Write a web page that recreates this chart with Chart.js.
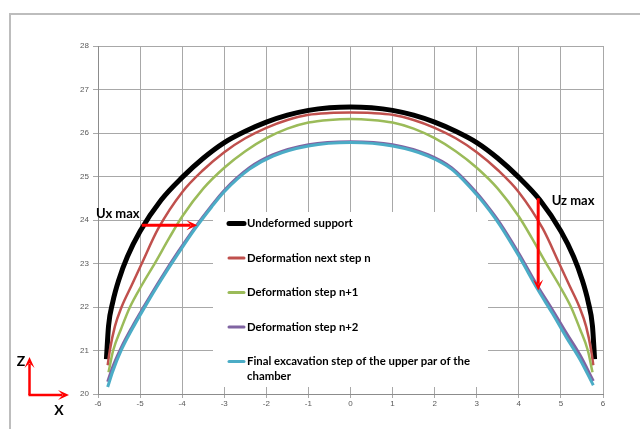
<!DOCTYPE html>
<html>
<head>
<meta charset="utf-8">
<script src="https://cdn.jsdelivr.net/npm/chart.js@4.4.1/dist/chart.umd.min.js"></script>
<style>
  html, body { margin: 0; padding: 0; background: #fff; }
  #wrap { width: 640px; height: 429px; }
</style>
</head>
<body>
<div id="wrap"><canvas id="chart" width="640" height="429"></canvas></div>
<script>
// ---- Data ----
const seriesNames = [
  'Undeformed support',
  'Deformation next step n',
  'Deformation step n+1',
  'Deformation step n+2',
  'Final excavation step of the upper par of the chamber',
];

const undeformedX = [-5.8, -5.75, -5.65, -5.5, -5.3, -5.0, -4.5, -4.0, -3.5, -3.0, -2.5, -2.0, -1.5, -1.0, -0.5, 0,
  0.5, 1.0, 1.5, 2.0, 2.5, 3.0, 3.5, 4.0, 4.5, 5.0, 5.3, 5.5, 5.65, 5.75, 5.8];
const undeformedY = [20.8, 21.56, 22.11, 22.64, 23.16, 23.74, 24.46, 24.98, 25.42, 25.78, 26.04, 26.25, 26.41, 26.52, 26.58, 26.6,
  26.58, 26.52, 26.41, 26.25, 26.04, 25.78, 25.42, 24.98, 24.46, 23.74, 23.16, 22.64, 22.11, 21.56, 20.8];

const stepNX = [-5.77, -5.72, -5.6, -5.44, -5.2, -4.96, -4.57, -4.0, -3.5, -3.0, -2.5, -2.0, -1.5, -1.0, -0.5, 0,
  0.5, 1.0, 1.5, 2.0, 2.5, 3.0, 3.5, 4.0, 4.57, 4.96, 5.2, 5.44, 5.6, 5.72, 5.77];
const stepNY = [20.66, 21.0, 21.55, 22.0, 22.5, 23.0, 23.8, 24.64, 25.15, 25.56, 25.88, 26.12, 26.3, 26.42, 26.46, 26.47,
  26.46, 26.42, 26.3, 26.12, 25.88, 25.56, 25.15, 24.64, 23.8, 23.0, 22.5, 22.0, 21.55, 21.0, 20.66];

const stepN1X = [-5.75, -5.64, -5.45, -5.24, -4.96, -4.64, -4.3, -4.0, -3.5, -3.0, -2.5, -2.0, -1.5, -1.0, -0.5, 0,
  0.5, 1.0, 1.5, 2.0, 2.5, 3.0, 3.5, 4.0, 4.3, 4.64, 4.96, 5.24, 5.45, 5.64, 5.75];
const stepN1Y = [20.5, 21.0, 21.5, 22.0, 22.5, 23.02, 23.6, 24.08, 24.72, 25.2, 25.58, 25.88, 26.1, 26.24, 26.3, 26.32,
  26.3, 26.24, 26.1, 25.88, 25.58, 25.2, 24.72, 24.08, 23.6, 23.02, 22.5, 22.0, 21.5, 21.0, 20.5];

const stepN2X = [-5.77, -5.65, -5.45, -5.2, -4.9, -4.5, -4.1, -3.7, -3.3, -3.0, -2.4, -1.84, -1.0, 0,
  1.0, 1.84, 2.4, 3.0, 3.3, 3.55, 4.0, 4.45, 4.8, 5.13, 5.45, 5.77];
const stepN2Y = [20.28, 20.62, 21.06, 21.52, 22.02, 22.66, 23.26, 23.82, 24.33, 24.68, 25.2, 25.5, 25.73, 25.8,
  25.73, 25.5, 25.2, 24.62, 24.26, 23.93, 23.23, 22.47, 21.93, 21.4, 20.9, 20.3];

const finalX = [-5.77, -5.65, -5.45, -5.2, -4.9, -4.5, -4.1, -3.7, -3.3, -3.0, -2.4, -1.84, -1.0, 0,
  1.0, 1.84, 2.4, 3.0, 3.3, 3.55, 4.0, 4.45, 4.8, 5.13, 5.45, 5.77];
const finalY = [20.16, 20.52, 21.0, 21.47, 21.98, 22.62, 23.22, 23.79, 24.3, 24.65, 25.17, 25.47, 25.7, 25.78,
  25.7, 25.47, 25.17, 24.58, 24.22, 23.88, 23.17, 22.4, 21.85, 21.3, 20.8, 20.2];

const xTicks = [-6, -5, -4, -3, -2, -1, 0, 1, 2, 3, 4, 5, 6];
const yTicks = [20, 21, 22, 23, 24, 25, 26, 27, 28];

// ---- Annotations (data coordinates) ----
const uxArrow = [[-4.96, 23.88], [-3.64, 23.88]];
const uzArrow = [[4.46, 24.5], [4.46, 22.38]];
const uxLabel = { text: 'Ux max', x: -6.05, y: 24.14 };
const uzLabel = { text: 'Uz max', x: 4.78, y: 24.44 };

// ---- Styles ----
const colors = ['#000000', '#c0504d', '#9bbb59', '#8064a2', '#4bacc6'];
const widths = [5, 2.5, 2.5, 3, 3];

const pts = (xs, ys) => xs.map((x, i) => ({ x, y: ys[i] }));
const seriesData = [
  pts(undeformedX, undeformedY),
  pts(stepNX, stepNY),
  pts(stepN1X, stepN1Y),
  pts(stepN2X, stepN2Y),
  pts(finalX, finalY),
];

function arrow(ctx, x1, y1, x2, y2, w) {
  const a = Math.atan2(y2 - y1, x2 - x1);
  const len = 11, half = 5;
  ctx.beginPath();
  ctx.moveTo(x1, y1);
  ctx.lineTo(x2 - Math.cos(a) * len * 0.6, y2 - Math.sin(a) * len * 0.6);
  ctx.lineWidth = w;
  ctx.stroke();
  const bx = x2 - Math.cos(a) * len, by = y2 - Math.sin(a) * len;
  const nx = -Math.sin(a) * half, ny = Math.cos(a) * half;
  ctx.beginPath();
  ctx.moveTo(x2, y2);
  ctx.lineTo(bx + nx, by + ny);
  ctx.lineTo(x2 - Math.cos(a) * len * 0.55, y2 - Math.sin(a) * len * 0.55);
  ctx.lineTo(bx - nx, by - ny);
  ctx.closePath();
  ctx.fill();
}

const decorations = {
  id: 'decorations',
  beforeDraw(chart) {
    const { ctx } = chart;
    ctx.save();
    ctx.fillStyle = '#fff';
    ctx.fillRect(0, 0, chart.width, chart.height);
    ctx.strokeStyle = '#bdbdbd';
    ctx.lineWidth = 2;
    ctx.strokeRect(10, 14, chart.width + 20, chart.height + 20);
    ctx.restore();
  },
  afterDatasetsDraw(chart) {
    const { ctx, scales: { x, y } } = chart;
    ctx.save();

    // legend box sits inside the plot and hides the grid
    ctx.fillStyle = '#fff';
    ctx.fillRect(213, 212, 275, 175);
    const longest = 'Final excavation step of the upper par of the';
    ctx.font = 'bold 11px Lato';
    const size = 11 * 223 / ctx.measureText(longest).width;
    ctx.font = `bold ${size.toFixed(2)}px Lato`;
    ctx.textBaseline = 'middle';
    const rows = [223.5, 258, 292.5, 327, 361.5];
    seriesNames.forEach((name, i) => {
      ctx.strokeStyle = colors[i];
      ctx.lineWidth = i === 0 ? 5 : 3;
      ctx.lineCap = 'round';
      ctx.beginPath();
      ctx.moveTo(229, rows[i]);
      ctx.lineTo(244, rows[i]);
      ctx.stroke();
      ctx.fillStyle = '#000';
      if (i === 4) {
        ctx.fillText(longest, 247, rows[i]);
        ctx.fillText('chamber', 247, rows[i] + 15);
      } else {
        ctx.fillText(name, 247, rows[i]);
      }
    });
    ctx.lineCap = 'butt';

    // displacement arrows
    ctx.strokeStyle = '#ff0000';
    ctx.fillStyle = '#ff0000';
    [uxArrow, uzArrow].forEach(([a, b]) => {
      arrow(ctx, x.getPixelForValue(a[0]), y.getPixelForValue(a[1]),
        x.getPixelForValue(b[0]), y.getPixelForValue(b[1]), 3);
    });

    ctx.fillStyle = '#000';
    ctx.font = 'bold 13px Lato';
    ctx.textBaseline = 'middle';
    [uxLabel, uzLabel].forEach(l => {
      ctx.fillText(l.text, x.getPixelForValue(l.x), y.getPixelForValue(l.y));
    });
    ctx.restore();
  },
  afterDraw(chart) {
    // Z / X orientation sketch bottom-left
    const { ctx } = chart;
    ctx.save();
    ctx.strokeStyle = '#ff0000';
    ctx.fillStyle = '#ff0000';
    arrow(ctx, 29.5, 395, 29.5, 357, 2.5);
    arrow(ctx, 28.5, 395, 69, 395, 2.5);
    ctx.fillStyle = '#000';
    ctx.font = 'bold 14px Lato';
    ctx.textAlign = 'center';
    ctx.textBaseline = 'middle';
    ctx.fillText('Z', 21, 361);
    ctx.fillText('X', 59, 410);
    ctx.restore();
  },
};

const tickFont = { family: 'Liberation Sans', size: 8 };

new Chart(document.getElementById('chart'), {
  type: 'scatter',
  data: {
    datasets: seriesData.map((data, i) => ({
      label: seriesNames[i],
      data,
      showLine: true,
      borderColor: colors[i],
      backgroundColor: colors[i],
      borderWidth: widths[i],
      pointRadius: 0,
      cubicInterpolationMode: 'monotone',
      order: 4 - i,
    })),
  },
  options: {
    responsive: false,
    animation: false,
    layout: { padding: { top: 46, right: 37, left: 0, bottom: 0 } },
    plugins: { legend: { display: false }, tooltip: { enabled: false } },
    scales: {
      x: {
        type: 'linear',
        min: xTicks[0],
        max: xTicks[xTicks.length - 1],
        afterBuildTicks: s => { s.ticks = xTicks.map(v => ({ value: v })); },
        afterFit: s => { s.height = 35; },
        grid: { color: '#a8a8a8', lineWidth: 1, tickLength: 4 },
        border: { color: '#8c8c8c', width: 1 },
        ticks: { font: tickFont, color: '#595959', padding: 1, maxRotation: 0 },
      },
      y: {
        type: 'linear',
        min: yTicks[0],
        max: yTicks[yTicks.length - 1],
        afterBuildTicks: s => { s.ticks = yTicks.map(v => ({ value: v })); },
        afterFit: s => { s.width = 98; },
        grid: { color: '#a8a8a8', lineWidth: 1, tickLength: 5 },
        border: { color: '#8c8c8c', width: 1 },
        ticks: { font: tickFont, color: '#595959', padding: 4 },
      },
    },
  },
  plugins: [decorations],
});
</script>
</body>
</html>
